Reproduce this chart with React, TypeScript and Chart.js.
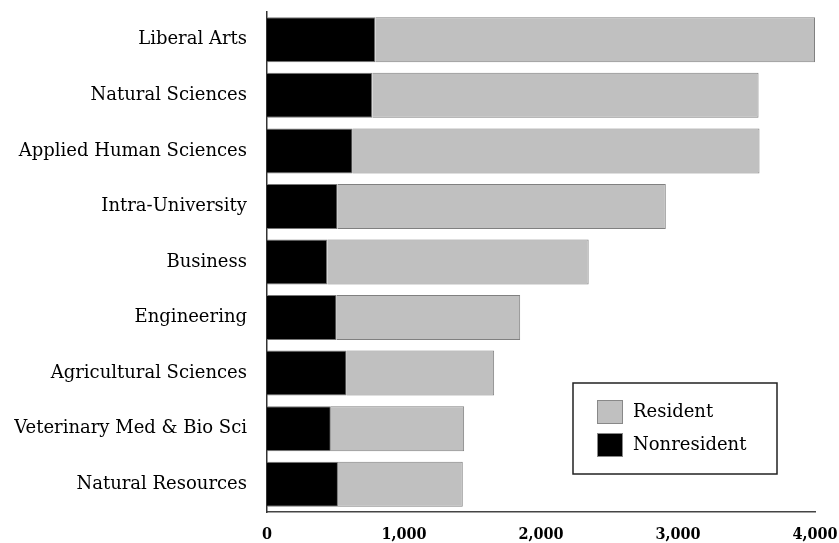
import React, { useEffect, useRef } from "react";
import { Chart, registerables } from "chart.js";

Chart.register(...registerables);

const categories = [
  "Liberal Arts",
  "Natural Sciences",
  "Applied Human Sciences",
  "Intra-University",
  "Business",
  "Engineering",
  "Agricultural Sciences",
  "Veterinary Med & Bio Sci",
  "Natural Resources",
];
const nonresident = [791, 769, 625, 515, 440, 508, 581, 466, 518];
const resident = [3209, 2819, 2970, 2396, 1908, 1340, 1077, 973, 911];
const xTicks = [0, 1000, 2000, 3000, 4000];

const LABEL_FONT = "'DejaVu Serif', serif";

const boxLegend = {
  id: "boxLegend",
  afterDraw(chart: any) {
    const { ctx, chartArea } = chart;
    const w = 204;
    const h = 91;
    const x0 = chartArea.right - 38 - w;
    const y0 = chartArea.bottom - 38 - h;
    ctx.save();
    ctx.fillStyle = "#ffffff";
    ctx.fillRect(x0, y0, w, h);
    ctx.lineWidth = 1.5;
    ctx.strokeStyle = "#222";
    ctx.strokeRect(x0, y0, w, h);
    const ds = chart.data.datasets.slice().reverse();
    ds.forEach((d: any, i: number) => {
      const sy = y0 + 17 + i * 33;
      ctx.fillStyle = d.backgroundColor;
      ctx.fillRect(x0 + 24, sy, 26, 24);
      ctx.lineWidth = 1;
      ctx.strokeStyle = "#888";
      ctx.strokeRect(x0 + 24.5, sy + 0.5, 25, 23);
      ctx.fillStyle = "#000";
      ctx.font = "18px " + LABEL_FONT;
      ctx.textBaseline = "middle";
      ctx.textAlign = "left";
      ctx.fillText(d.label, x0 + 60, sy + 12);
    });
    ctx.restore();
  },
};

export default function App() {
  const ref = useRef<HTMLCanvasElement | null>(null);
  useEffect(() => {
    if (!ref.current) return;
    const chart = new Chart(ref.current, {
      type: "bar",
      data: {
        labels: categories,
        datasets: [
          {
            label: "Nonresident",
            data: nonresident,
            backgroundColor: "#000000",
            borderColor: "#777777",
            borderWidth: 1,
          },
          {
            label: "Resident",
            data: resident,
            backgroundColor: "#c0c0c0",
            borderColor: "#808080",
            borderWidth: 1,
          },
        ],
      },
      options: {
        indexAxis: "y",
        animation: false,
        responsive: true,
        maintainAspectRatio: false,
        datasets: { bar: { categoryPercentage: 1, barPercentage: 0.81 } },
        layout: { padding: { top: 12, right: 24, bottom: 0, left: 0 } },
        plugins: { legend: { display: false }, tooltip: { enabled: false } },
        scales: {
          x: {
            stacked: true,
            min: xTicks[0],
            max: xTicks[xTicks.length - 1],
            afterBuildTicks: (scale: any) => {
              scale.ticks = xTicks.map((v) => ({ value: v }));
            },
            afterFit: (scale: any) => {
              scale.height = 31;
              scale.paddingLeft = 0;
              scale.paddingRight = 0;
            },
            grid: { display: false, drawTicks: false },
            border: { display: true, color: "#444", width: 1.5 },
            ticks: {
              padding: 13,
              maxRotation: 0,
              color: "#000",
              font: { family: "'DejaVu Serif Condensed', 'DejaVu Serif', serif", size: 16, weight: "bold" },
              callback: (v: any) => Number(v).toLocaleString("en-US"),
            },
          },
          y: {
            stacked: true,
            afterFit: (scale: any) => {
              scale.width = 267;
              scale.paddingTop = 0;
              scale.paddingBottom = 0;
            },
            grid: { display: false, drawTicks: false },
            border: { display: true, color: "#333", width: 1.5 },
            ticks: {
              padding: 20,
              color: "#000",
              font: { family: LABEL_FONT, size: 18 },
            },
          },
        },
      },
      plugins: [boxLegend],
    });
    return () => chart.destroy();
  }, []);
  return (
    <div style={{ position: "fixed", left: 0, top: 0, width: 839, height: 543, background: "#fff" }}>
      <canvas ref={ref} />
    </div>
  );
}
